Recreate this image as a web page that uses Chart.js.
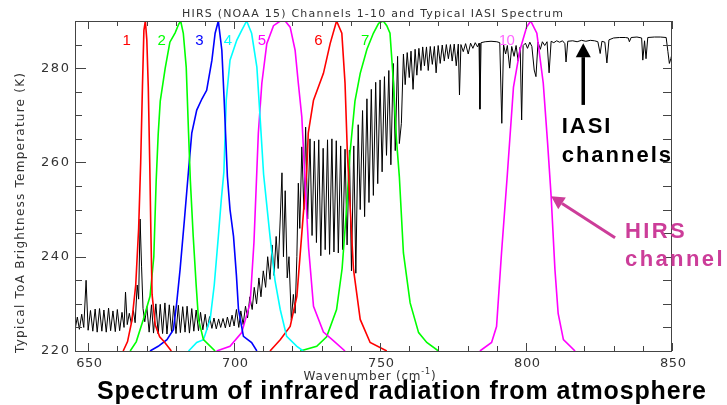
<!DOCTYPE html>
<html>
<head>
<meta charset="utf-8">
<script src="https://cdn.jsdelivr.net/npm/chart.js@4.4.1/dist/chart.umd.min.js"></script>
<style>
  html, body { margin: 0; padding: 0; background: #fff; }
  canvas { display: block; }
</style>
</head>
<body>
<canvas id="c" width="727" height="405"></canvas>
<script>
// axis ranges and tick labels
var wnMin = 645.5, wnMax = 850;
var btMin = 220, btMax = 290;
var xTickLabels = [650, 700, 750, 800, 850];
var yTickLabels = [220, 240, 260, 280];

// typical IASI spectrum, [wavenumber, brightness temperature]
var iasiSpectrum = [
  [645.0,226.0],[645.6,224.8],[646.3,227.2],[647.0,224.6],[647.8,227.8],[648.5,225.0],[649.3,235.0],[650.0,224.4],
  [650.8,228.6],[651.6,224.2],[652.4,228.9],[653.1,224.0],[653.9,229.0],[654.7,224.2],[655.4,228.7],[656.2,224.0],
  [657.0,229.1],[657.7,224.3],[658.5,228.5],[659.3,224.1],[660.0,228.8],[660.8,224.3],[661.6,228.2],[662.3,225.0],
  [662.8,232.5],[663.4,225.6],[664.1,228.0],[664.8,225.8],[665.5,228.6],[666.1,226.0],[666.8,234.0],[667.3,231.0],
  [667.8,248.0],[668.3,238.0],[668.8,229.0],[669.4,226.2],[670.1,229.4],[670.9,224.0],[671.7,229.8],[672.4,223.8],
  [673.2,230.0],[674.0,223.6],[674.7,229.9],[675.5,223.7],[676.3,230.2],[677.0,223.6],[677.8,229.8],[678.6,223.8],
  [679.3,229.6],[680.1,223.7],[680.9,229.7],[681.6,223.9],[682.4,229.4],[683.2,224.0],[683.9,229.5],[684.7,223.8],
  [685.5,229.0],[686.2,224.2],[687.0,228.7],[687.8,224.3],[688.5,228.2],[689.3,224.5],[690.1,227.8],[690.8,224.6],
  [691.6,227.3],[692.4,224.8],[693.1,227.0],[693.9,224.7],[694.7,226.8],[695.4,225.0],[696.2,226.9],[697.0,224.9],
  [697.7,227.2],[698.5,225.1],[699.3,227.6],[700.0,225.3],[700.8,228.8],[701.6,225.0],[702.3,228.5],[703.1,225.6],
  [703.9,229.5],[704.6,227.0],[705.4,231.5],[706.2,228.8],[706.9,233.5],[707.7,230.0],[708.5,235.5],[709.2,231.5],
  [710.0,237.0],[710.8,233.5],[711.5,240.0],[712.3,235.2],[713.0,242.5],[713.7,236.0],[714.4,244.3],[715.1,237.5],
  [715.8,248.0],[716.4,257.8],[716.9,240.0],[717.5,254.0],[718.2,235.5],[718.8,240.0],[719.6,226.5],[720.3,232.0],
  [720.9,228.0],[721.5,240.0],[722.0,255.6],[722.5,246.0],[723.2,263.3],[723.9,250.0],[724.5,267.5],[725.2,248.0],
  [726.0,265.0],[726.7,244.5],[727.5,264.5],[728.2,243.0],[729.0,264.8],[729.7,240.2],[730.5,263.0],[731.2,241.5],
  [732.0,264.8],[732.7,240.5],[733.5,265.0],[734.2,241.0],[735.0,264.6],[735.7,240.8],[736.5,263.5],[737.2,241.5],
  [738.0,262.8],[738.7,242.5],[739.5,262.6],[740.2,237.0],[741.0,263.5],[741.7,236.5],[742.5,268.0],[743.2,250.0],
  [744.0,271.0],[744.7,248.5],[745.5,273.5],[746.2,251.5],[747.0,275.5],[747.7,253.0],[748.5,277.0],[749.2,255.5],
  [750.0,277.5],[750.7,258.0],[751.5,278.2],[752.2,261.5],[753.0,279.5],[753.7,259.5],[754.5,281.0],[755.2,262.5],
  [756.0,282.5],[756.6,264.0],[757.3,268.3],[758.0,283.0],[758.6,276.5],[759.3,283.3],[760.0,278.0],[760.6,283.6],
  [761.3,275.5],[762.0,284.0],[762.6,278.5],[763.3,284.2],[764.0,279.5],[764.6,284.5],[765.2,280.5],[765.9,284.5],
  [766.5,279.5],[767.2,284.6],[767.9,280.8],[768.6,284.6],[769.2,279.0],[769.9,284.8],[770.6,281.0],[771.3,284.9],
  [772.0,281.5],[772.7,285.0],[773.4,282.0],[774.1,285.0],[774.7,281.5],[775.4,285.1],[776.1,280.5],[776.8,285.1],
  [777.2,274.3],[777.7,285.0],[778.5,283.5],[779.3,285.2],[780.2,283.0],[781.0,285.3],[781.8,284.2],[782.6,285.4],
  [783.4,284.5],[783.9,285.3],[784.2,271.3],[784.6,285.4],[786.0,285.6],[788.0,285.7],[790.0,285.6],[791.0,285.4],
  [791.7,268.3],[792.3,285.0],[793.0,283.0],[793.6,284.8],[794.4,280.0],[795.1,284.6],[795.9,282.5],[796.6,284.8],
  [797.3,281.5],[798.0,284.5],[798.5,269.0],[799.0,284.8],[799.8,285.3],[800.5,284.2],[801.3,285.5],[802.0,284.6],
  [802.8,279.6],[803.4,278.2],[804.1,285.5],[804.9,284.0],[805.6,285.6],[806.4,284.8],[807.2,285.6],[807.9,279.0],
  [808.6,285.7],[809.5,285.4],[810.5,285.8],[811.5,285.5],[812.5,285.8],[813.3,285.2],[813.7,281.3],[814.3,285.7],
  [816.0,285.8],[817.5,285.6],[819.0,285.9],[820.5,285.7],[822.0,285.9],[823.5,285.8],[824.6,285.6],[825.4,283.1],
  [826.0,285.7],[827.0,285.5],[827.7,281.1],[828.4,286.0],[830.0,286.4],[832.0,286.5],[834.0,286.5],[835.0,286.4],
  [835.4,285.6],[836.0,286.5],[838.0,286.6],[839.6,286.4],[840.0,281.7],[840.6,285.8],[841.1,282.0],[841.7,286.5],
  [844.0,286.6],[846.0,286.6],[848.0,286.5],[848.6,283.5],[849.1,281.0],[849.6,282.0],[850.0,283.0]
];

// HIRS channel response curves, scaled to the plot height
var ch1 = [[662.0,220],[663.5,222],[665.0,226.5],[666.3,234],[667.3,246],[668.0,260],[668.6,276],[669.1,288],
  [669.6,290],[670.1,286],[670.6,276],[671.1,260],[671.5,245],[671.9,232],[673.0,225.5],[674.5,223],[676.0,222],[678.5,220]];
var ch2 = [[664.4,220],[666.5,222],[668.9,226.7],[671.2,231.6],[672.5,240],[673.3,256],[674.0,266],[674.7,273],
  [676.4,280],[678.0,285.5],[679.8,287.5],[681.0,289.3],[681.7,290],[682.6,287.4],[683.6,280.2],[684.4,266.2],
  [685.0,256.3],[686.0,244.3],[687.0,234],[687.8,226.7],[689.5,222.4],[693.5,220]];
var ch3 = [[671.2,220],[674.0,221],[677.0,222.4],[679.2,224.5],[680.3,230],[681.5,237.3],[683.0,248],[684.4,258.4],
  [685.5,266.2],[687.2,271.1],[689.0,273.5],[690.6,275.3],[692.4,281.7],[693.5,287.4],[694.6,290],[695.8,283.8],
  [696.6,273.2],[697.7,257],[698.6,250],[699.8,244.3],[700.8,236],[701.5,228.8],[703.2,223.1],[706.0,221.8],[707.8,220]];
var ch4 = [[684.4,220],[687.2,221.8],[689.5,222.4],[691.8,226.7],[693.2,234],[694.6,244.3],[695.6,252],[696.5,258],
  [697.3,273.2],[698.6,281.7],[700.9,285.9],[702.6,288],[704.3,290],[706.0,287.4],[707.8,280.2],[708.9,269.6],
  [710.1,257.5],[712.3,244.3],[714.0,235],[715.8,228.8],[718.0,223.1],[721.5,221],[723.7,220]];
var ch5 = [[694.0,220],[698.6,221],[702.6,223.9],[705.5,230.2],[706.8,243],[707.8,258.4],[708.3,266.2],[709.5,276.8],
  [711.2,285.2],[713.5,289],[715.8,290],[717.5,290],[719.2,288.7],[720.9,283.8],[722.0,276.8],[723.2,269.6],
  [724.3,256],[725.5,242],[727.2,229.5],[730.6,224],[733.6,222.4],[738.0,220]];
var ch6 = [[712.3,220],[715.8,222.4],[719.2,225.2],[721.5,231.6],[723.2,245],[724.9,258.4],[725.4,266.2],[727.2,273.2],
  [730.6,278.9],[732.9,285.2],[735.1,290],[736.9,287.4],[738.0,276.8],[738.8,262],[739.8,250],[740.9,237.3],
  [743.2,226.7],[746.6,221.8],[752.3,220]];
var ch7 = [[722.6,220],[728.3,221],[731.7,223],[735.1,228.8],[737.0,237.5],[738.5,250],[739.7,262],[741.4,273],
  [743.2,278.9],[745.5,284],[747.7,287.4],[749.5,289.5],[751.1,290],[752.3,289],[753.4,287.4],[754.6,276.8],
  [755.6,265],[756.6,257],[758.0,240.8],[760.3,230.2],[763.2,223.9],[766.0,221.8],[770.0,220]];
var ch10 = [[784.2,220],[788.2,221.8],[789.9,225.2],[791.6,240.8],[793.6,257.5],[795.7,276],[797.9,283.8],[800.2,288.7],
  [801.6,290],[803.7,287.4],[805.9,276.8],[807.4,264],[808.6,252.8],[809.9,237.3],[811.0,228],[812.8,222.4],[816.8,220]];

var channelSeries = [ch1, ch2, ch3, ch4, ch5, ch6, ch7, ch10];
var channelNames = ["1", "2", "3", "4", "5", "6", "7", "10"];
var channelColors = ["#ff0000", "#00ff00", "#0000ff", "#00ffff", "#ff00ff", "#ff0000", "#00ff00", "#ff00ff"];
var channelLabelColors = ["#ff0000", "#00ff00", "#0000ff", "#00ffff", "#ff00ff", "#ff0000", "#00ff00", "#ff66ff"];
var channelLabelWn = [663.2, 675.2, 688.1, 697.9, 709.5, 728.9, 744.9, 793.4];

function toPoints(arr) {
  return arr.map(function(p) { return {x: p[0], y: p[1]}; });
}

// text with letter spacing stretched to a given width, centred on cx
function spacedText(ctx, str, cx, cy, width) {
  ctx.letterSpacing = "0px";
  var w0 = ctx.measureText(str).width;
  var n = str.length;
  var s = n > 1 ? (width - w0) / (n - 1) : 0;
  ctx.letterSpacing = s + "px";
  ctx.textAlign = "left";
  ctx.fillText(str, cx - width / 2, cy);
  ctx.letterSpacing = "0px";
}

function seg(ctx, x1, y1, x2, y2) {
  ctx.beginPath();
  ctx.moveTo(x1, y1);
  ctx.lineTo(x2, y2);
  ctx.stroke();
}

function arrow(ctx, x1, y1, x2, y2, head, half, w, color) {
  var ang = Math.atan2(y2 - y1, x2 - x1);
  var bx = x2 - head * Math.cos(ang), by = y2 - head * Math.sin(ang);
  ctx.strokeStyle = color;
  ctx.fillStyle = color;
  ctx.lineWidth = w;
  seg(ctx, x1, y1, bx, by);
  ctx.beginPath();
  ctx.moveTo(x2, y2);
  ctx.lineTo(bx + half * Math.sin(ang), by - half * Math.cos(ang));
  ctx.lineTo(bx - half * Math.sin(ang), by + half * Math.cos(ang));
  ctx.closePath();
  ctx.fill();
}

var framePlugin = {
  id: "frame",
  afterDatasetsDraw: function(chart) {
    var ctx = chart.ctx, a = chart.chartArea;
    var xs = chart.scales.x, ys = chart.scales.y;
    ctx.save();

    // box and inward ticks
    ctx.strokeStyle = "#444";
    ctx.lineWidth = 1;
    ctx.strokeRect(a.left + 0.5, a.top + 0.5, a.right - a.left - 1, a.bottom - a.top);
    var v, p, len;
    for (v = 650; v <= 850; v += 10) {
      p = Math.round(xs.getPixelForValue(v)) + 0.5;
      len = (v % 50 === 0) ? 8 : 5;
      seg(ctx, p, a.bottom, p, a.bottom - len);
      seg(ctx, p, a.top, p, a.top + len);
    }
    for (v = btMin; v < btMax; v += 5) {
      p = Math.round(ys.getPixelForValue(v)) + 0.5;
      len = (v % 20 === 0) ? 11 : 7;
      seg(ctx, a.left, p, a.left + len, p);
      seg(ctx, a.right, p, a.right - 9, p);
    }

    // tick labels
    ctx.fillStyle = "#333";
    ctx.font = "13px 'DejaVu Sans'";
    ctx.textBaseline = "middle";
    xTickLabels.forEach(function(t) {
      spacedText(ctx, String(t), xs.getPixelForValue(t) + 1, 364, 26);
    });
    yTickLabels.forEach(function(t) {
      spacedText(ctx, String(t), 55, ys.getPixelForValue(t), 28);
    });

    // title
    ctx.font = "11px 'DejaVu Sans'";
    spacedText(ctx, "HIRS (NOAA 15) Channels 1-10 and Typical IASI Spectrum", 372.5, 14, 381);

    // x axis title with superscript
    ctx.font = "12px 'DejaVu Sans'";
    ctx.letterSpacing = "0.8px";
    var t1 = "Wavenumber (cm", t3 = ")";
    var w1 = ctx.measureText(t1).width, w3 = ctx.measureText(t3).width;
    ctx.font = "8px 'DejaVu Sans'";
    var t2 = "-1", w2 = ctx.measureText(t2).width;
    var x0 = 370 - (w1 + w2 + w3) / 2;
    ctx.textAlign = "left";
    ctx.font = "12px 'DejaVu Sans'";
    ctx.fillText(t1, x0, 377);
    ctx.font = "8px 'DejaVu Sans'";
    ctx.fillText(t2, x0 + w1, 372);
    ctx.font = "12px 'DejaVu Sans'";
    ctx.fillText(t3, x0 + w1 + w2, 377);
    ctx.letterSpacing = "0px";

    // y axis title
    ctx.save();
    ctx.translate(21, 213);
    ctx.rotate(-Math.PI / 2);
    ctx.font = "12px 'DejaVu Sans'";
    spacedText(ctx, "Typical ToA Brightness Temperature (K)", 0, 0, 280);
    ctx.restore();

    // channel numbers
    ctx.font = "15px 'Liberation Sans'";
    ctx.textBaseline = "alphabetic";
    channelNames.forEach(function(name, i) {
      ctx.fillStyle = channelLabelColors[i];
      var w = name.length > 1 ? 16 : ctx.measureText(name).width;
      spacedText(ctx, name, xs.getPixelForValue(channelLabelWn[i]), ys.getPixelForValue(284.9), w);
    });

    // IASI annotation
    ctx.fillStyle = "#000";
    ctx.font = "bold 22px 'Liberation Sans'";
    ctx.textAlign = "left";
    ctx.letterSpacing = "2px";
    var ax = xs.getPixelForValue(812.2);
    ctx.fillText("IASI", ax, ys.getPixelForValue(266.2));
    ctx.fillText("channels", ax, ys.getPixelForValue(260.1));
    ctx.letterSpacing = "0px";
    var arx = xs.getPixelForValue(819.6);
    arrow(ctx, arx, ys.getPixelForValue(272.2), arx, ys.getPixelForValue(285.3), 14, 7.5, 3.5, "#000");

    // HIRS annotation
    ctx.fillStyle = "#cc3d99";
    ctx.letterSpacing = "2.4px";
    var hx = xs.getPixelForValue(833.9);
    ctx.fillText("HIRS", hx, ys.getPixelForValue(244.0));
    ctx.fillText("channel", hx, ys.getPixelForValue(238.0));
    ctx.letterSpacing = "0px";
    arrow(ctx, xs.getPixelForValue(830.5), ys.getPixelForValue(244.0),
      xs.getPixelForValue(808.6), ys.getPixelForValue(252.8), 13, 7, 3, "#cc3d99");

    // caption, condensed bold
    ctx.fillStyle = "#000";
    ctx.font = "bold 25px 'Liberation Sans Narrow', 'Liberation Sans'";
    spacedText(ctx, "Spectrum of infrared radiation from atmosphere", 401.5, 399, 609);

    ctx.restore();
  }
};

var datasets = channelSeries.map(function(s, i) {
  return {
    label: "HIRS " + channelNames[i],
    data: toPoints(s),
    borderColor: channelColors[i],
    borderWidth: 1.6,
    pointRadius: 0,
    tension: 0,
    fill: false
  };
});
datasets.push({
  label: "IASI",
  data: toPoints(iasiSpectrum),
  borderColor: "#000",
  borderWidth: 1,
  pointRadius: 0,
  tension: 0,
  fill: false
});

new Chart(document.getElementById("c"), {
  type: "line",
  data: { datasets: datasets },
  options: {
    responsive: false,
    animation: false,
    devicePixelRatio: 1,
    layout: { padding: { top: 21, right: 55, left: 0, bottom: 0 } },
    plugins: {
      legend: { display: false },
      tooltip: { enabled: false },
      title: { display: false }
    },
    scales: {
      x: {
        type: "linear", min: wnMin, max: wnMax,
        ticks: { display: false }, grid: { display: false }, border: { display: false },
        afterFit: function(s) { s.height = 54; }
      },
      y: {
        min: btMin, max: btMax,
        ticks: { display: false }, grid: { display: false }, border: { display: false },
        afterFit: function(s) { s.width = 75; }
      }
    }
  },
  plugins: [framePlugin]
});
</script>
</body>
</html>
